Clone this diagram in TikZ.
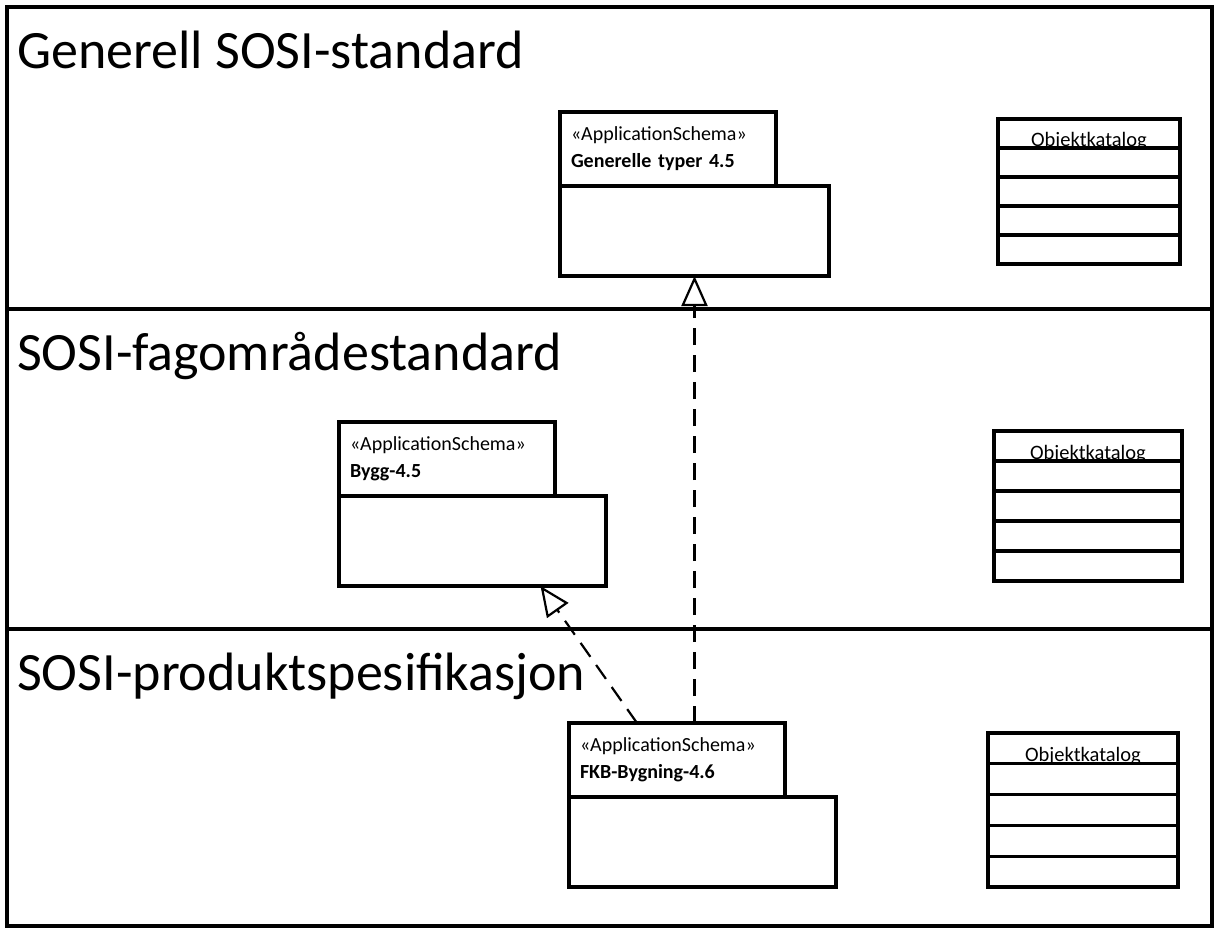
\documentclass[tikz,border=0pt]{standalone}
\usepackage{fontspec}
\setmainfont{Carlito}
\usetikzlibrary{positioning,arrows.meta}
\tikzset{
  band/.style={draw,line width=3.3pt,minimum width=1205pt,anchor=north west,inner sep=0pt,outer sep=0pt},
  bandtitle/.style={anchor=base west,inner sep=0pt,font=\fontsize{54}{60}\selectfont},
  pkgtab/.style={draw,line width=3.3pt,minimum width=216pt,minimum height=74pt,outer sep=0pt,
    anchor=north west,align=left,text width=194pt,inner xsep=11pt,inner ysep=0pt,
    font=\fontsize{20}{27}\selectfont},
  pkgbody/.style={draw,line width=3.3pt,minimum width=269pt,minimum height=90pt,inner sep=0pt,outer sep=0pt},
  katalog/.style={draw,line width=3.3pt,anchor=north west,inner sep=0pt,outer sep=0pt},
  katlabel/.style={anchor=base,inner sep=0pt,font=\fontsize{20.5}{24}\selectfont},
  realize/.style={line width=2.2pt,dash pattern=on 17pt off 10pt,
    -{Triangle[open,length=30pt,width=26pt,line width=2.2pt]}}
}
\begin{document}
\begin{tikzpicture}[x=1pt,y=-1pt]
  \useasboundingbox (0,0) rectangle (1217,932);
  % bands
  \node[band,minimum height=302pt] (gen) at (7,7) {};
  \node[band,minimum height=320pt] (fag) at (7,309) {};
  \node[band,minimum height=297pt] (prod) at (7,629) {};
  \node[bandtitle] (gentitle) at ([xshift=10pt,yshift=-61pt]gen.north west) {Generell SOSI-standard};
  \node[bandtitle] (fagtitle) at ([xshift=10pt,yshift=-61pt]fag.north west) {SOSI-fagområdestandard};
  \node[bandtitle] (prodtitle) at ([xshift=10pt,yshift=-61pt]prod.north west) {SOSI-produktspesifikasjon};
  % packages
  \node[pkgtab] (gentab) at (560,112) {«ApplicationSchema»\\\textbf{Generelle typer 4.5}};
  \node[pkgbody,below right=0pt and 0pt of gentab.south west] (genbody) {};
  \node[pkgtab,minimum width=215pt] (byggtab) at (339,422) {«ApplicationSchema»\\\textbf{Bygg-4.5}};
  \node[pkgbody,minimum width=267pt,below right=0pt and 0pt of byggtab.south west] (byggbody) {};
  \node[pkgtab] (fkbtab) at (569,723) {«ApplicationSchema»\\\textbf{FKB-Bygning-4.6}};
  \node[pkgbody,minimum width=267pt,below right=0pt and 0pt of fkbtab.south west] (fkbbody) {};
  % objektkataloger
  \foreach \name/\pos/\w/\h in {kat1/{(998,119)}/182/145, kat2/{(994,431)}/188/150, kat3/{(988,733)}/190/154} {
    \node[katalog,minimum width=\w pt,minimum height=\h pt] (\name) at \pos {};
    \foreach \i in {1,...,4}
      \draw[line width=3.3pt] ([yshift=-\i*\h/5 pt]\name.north west) -- ([yshift=-\i*\h/5 pt]\name.north east);
    \node[katlabel] at ([yshift=-\h/5 pt+2pt]\name.north) {Objektkatalog};
  }
  % realiseringer
  \draw[realize] (genbody.south |- fkbtab.north) -- (genbody.south);
  \draw[realize] ([xshift=-40pt]fkbtab.north) -- ([xshift=68pt]byggbody.south);
\end{tikzpicture}
\end{document}
